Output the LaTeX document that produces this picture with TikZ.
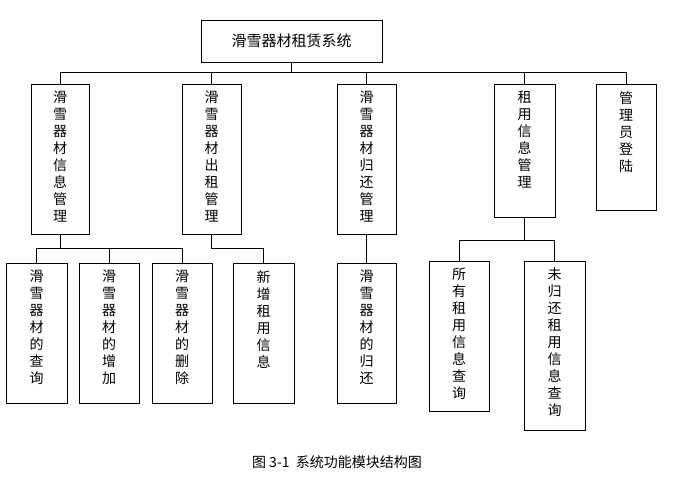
\documentclass[tikz,border=0pt]{standalone}
\usepackage{fontspec}
\setmainfont{Noto Sans CJK SC}
\begin{document}
\begin{tikzpicture}[x=1pt,y=-1pt,
  bx/.style={draw,semithick,inner sep=0pt},
  vt/.style={anchor=north,align=center,inner sep=0pt,font=\fontsize{14}{17}\selectfont},
  ln/.style={semithick}]
\useasboundingbox (0,0) rectangle (680,490);
\newcommand\mybox[6]{% name x1 y1 x2 y2 text
  \node[bx,minimum width={#4-#2},minimum height={#5-#3}] (#1) at ({(#2+#4)/2},{(#3+#5)/2}) {};
  \node[vt] (#1t) at ({(#2+#4)/2},{#3+7}) {#6};}
\node[bx,minimum width=181,minimum height=42,font=\fontsize{15}{18}\selectfont] (top) at (291.5,41) {滑雪器材租赁系统};
\mybox{a}{31}{84}{89}{234}{滑\\雪\\器\\材\\信\\息\\管\\理}
\mybox{b}{182}{84}{241}{234}{滑\\雪\\器\\材\\出\\租\\管\\理}
\mybox{c}{337}{84}{396}{234}{滑\\雪\\器\\材\\归\\还\\管\\理}
\mybox{d}{494}{84}{555}{217}{租\\用\\信\\息\\管\\理}
\mybox{e}{596}{84}{656}{210}{管\\理\\员\\登\\陆}
\mybox{a1}{6}{263}{67}{403}{滑\\雪\\器\\材\\的\\查\\询}
\mybox{a2}{79}{263}{139}{403}{滑\\雪\\器\\材\\的\\增\\加}
\mybox{a3}{152}{263}{212}{403}{滑\\雪\\器\\材\\的\\删\\除}
\mybox{b1}{233}{263}{294}{403}{新\\增\\租\\用\\信\\息}
\mybox{c1}{337}{263}{396}{403}{滑\\雪\\器\\材\\的\\归\\还}
\mybox{d1}{429}{261}{489}{411}{所\\有\\租\\用\\信\\息\\查\\询}
\mybox{d2}{524}{261}{585}{430}{未\\归\\还\\租\\用\\信\\息\\查\\询}
\draw[ln] (top.south) -- ++(0,10) coordinate (bus);
\foreach \n in {a,b,c,d,e}{\draw[ln] (bus -| \n.north) -- (\n.north);}
\draw[ln] (bus -| a.north) -- (bus -| e.north);
\draw[ln] (a.south) -- ++(0,14) coordinate (busa);
\draw[ln] (busa -| a1.north) -- (busa -| a3.north);
\foreach \n in {a1,a2,a3}{\draw[ln] (busa -| \n.north) -- (\n.north);}
\draw[ln] (b.south) -- ++(0,14) coordinate (busb) -- (busb -| b1.north) -- (b1.north);
\draw[ln] (c.south) -- (c1.north);
\draw[ln] (d.south) -- ++(0,23) coordinate (busd);
\draw[ln] (busd -| d1.north) -- (busd -| d2.north);
\foreach \n in {d1,d2}{\draw[ln] (busd -| \n.north) -- (\n.north);}
\node[font=\fontsize{14}{16}\selectfont] (cap) at (337,462) {图 3-1\ \ 系统功能模块结构图};
\end{tikzpicture}
\end{document}
